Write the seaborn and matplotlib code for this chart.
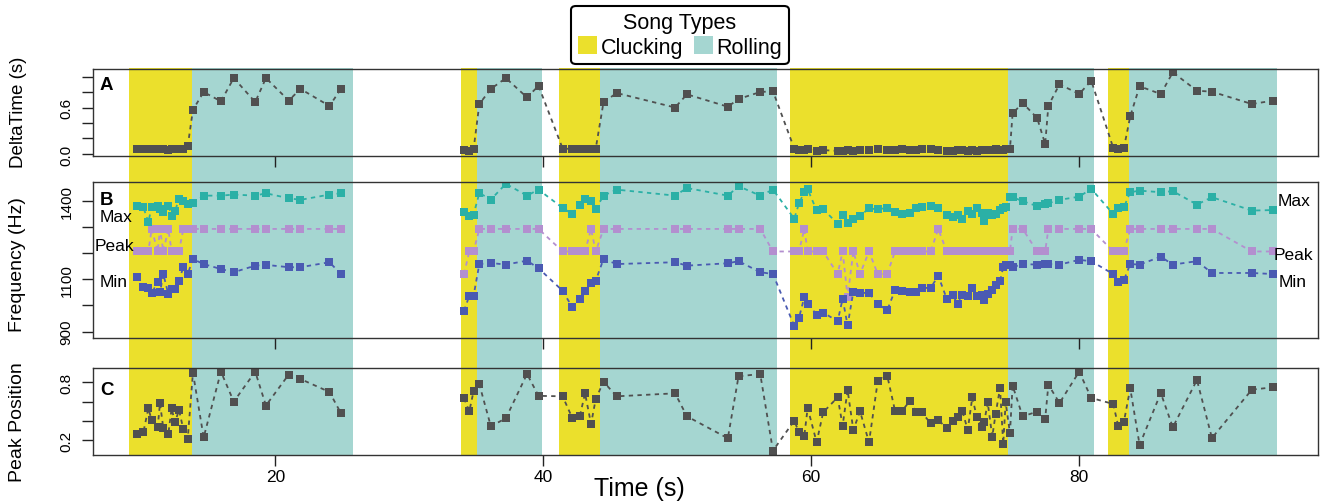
import numpy as np
import pandas as pd
import matplotlib
matplotlib.use("Agg")
import matplotlib.pyplot as plt
from matplotlib.patches import Patch
import seaborn as sns

# ---------------- data ----------------
song_type = ["Clucking", "Rolling", "Clucking", "Rolling", "Clucking", "Rolling",
             "Clucking", "Rolling", "Clucking", "Rolling"]
song_start = [9.08, 13.78, 33.84, 35.03, 41.18, 44.21, 58.42, 74.69, 82.16, 83.73]
song_end = [13.78, 25.80, 35.03, 39.90, 44.21, 57.45, 74.69, 81.11, 83.73, 94.77]

time_s = [
    # clucking 1
    9.65, 10.15, 10.52, 10.77, 11.22, 11.39, 11.64, 12.01, 12.26, 12.51, 12.81, 13.13, 13.46,
    # rolling 1
    13.85, 14.65, 15.94, 16.90, 18.50, 19.30, 21.00, 21.88, 24.04, 24.90,
    # clucking 2
    34.09, 34.48, 34.80,
    # rolling 2
    35.23, 36.09, 37.21, 38.79, 39.65,
    # clucking 3
    41.45, 42.17, 42.74, 43.12, 43.57, 43.92,
    # rolling 3
    44.50, 45.48, 49.84, 50.73, 53.78, 54.58, 56.20, 57.15,
    # clucking 4
    58.74, 59.09, 59.49, 59.74, 60.41, 60.90, 61.98, 62.35, 62.72, 63.15, 63.65, 64.32,
    64.97, 65.68, 66.26, 66.80, 67.38, 67.80, 68.25, 68.92, 69.49, 70.12, 70.56, 70.94,
    71.28, 71.69, 72.03, 72.36, 72.73, 72.92, 73.18, 73.52, 73.77, 74.10, 74.34, 74.52, 74.84,
    # rolling 4
    75.04, 75.79, 76.87, 77.47, 77.71, 78.54, 80.01, 80.91,
    # clucking 5
    82.55, 82.93, 83.35,
    # rolling 5
    83.82, 84.52, 86.10, 87.00, 88.80, 89.92, 92.90, 94.47,
]

delta_time = [
    0.07, 0.06, 0.07, 0.06, 0.06, 0.07, 0.06, 0.05, 0.06, 0.06, 0.07, 0.07, 0.10,
    0.57, 0.80, 0.68, 0.98, 0.67, 0.98, 0.69, 0.84, 0.62, 0.84,
    0.055, 0.04, 0.06,
    0.645, 0.84, 0.98, 0.73, 0.88,
    0.07, 0.065, 0.06, 0.06, 0.065, 0.07,
    0.667, 0.787, 0.60, 0.77, 0.61, 0.71, 0.80, 0.81,
    0.07, 0.05, 0.05, 0.06, 0.04, 0.05, 0.04, 0.04, 0.05, 0.04, 0.05, 0.05,
    0.06, 0.05, 0.05, 0.06, 0.05, 0.05, 0.06, 0.06, 0.05, 0.04, 0.04, 0.05,
    0.05, 0.04, 0.05, 0.04, 0.05, 0.05, 0.05, 0.05, 0.06, 0.05, 0.05, 0.06, 0.06,
    0.525, 0.658, 0.465, 0.129, 0.623, 0.90, 0.774, 0.946,
    0.08, 0.06, 0.08,
    0.486, 0.874, 0.774, 1.054, 0.817, 0.804, 0.645, 0.688,
]

freq_max = [
    1379, 1375, 1318, 1375, 1379, 1369, 1358, 1381, 1343, 1360, 1406, 1398, 1387,
    1390, 1419, 1419, 1423, 1419, 1428, 1409, 1403, 1423, 1428,
    1356, 1343, 1347,
    1429, 1404, 1464, 1419, 1442,
    1372, 1349, 1385, 1406, 1400, 1368,
    1419, 1442, 1419, 1448, 1419, 1455, 1419, 1442,
    1331, 1389, 1433, 1443, 1363, 1367, 1312, 1347, 1316, 1331, 1342, 1370,
    1367, 1372, 1357, 1350, 1354, 1372, 1376, 1380, 1372, 1344, 1338, 1344,
    1331, 1359, 1350, 1370, 1354, 1321, 1354, 1344, 1350, 1363, 1370, 1376, 1414,
    1413, 1398, 1379, 1387, 1390, 1403, 1415, 1445,
    1349, 1372, 1375,
    1432, 1438, 1432, 1436, 1385, 1413, 1362, 1364,
]

freq_min = [
    1110, 1069, 1067, 1047, 1089, 1050, 1120, 1044, 1063, 1063, 1095, 1146, 1120,
    1177, 1158, 1139, 1127, 1152, 1155, 1146, 1146, 1165, 1120,
    980, 1037, 1037,
    1158, 1162, 1156, 1171, 1142,
    1056, 993, 1025, 1056, 1085, 1095,
    1177, 1158, 1165, 1152, 1161, 1169, 1127, 1120,
    922, 952, 1032, 1007, 965, 973, 940, 1026, 924, 1052, 1048, 1048,
    1006, 982, 1058, 1054, 1052, 1052, 1067, 1067, 1113, 1026, 1039, 1007,
    1039, 1036, 1067, 1036, 1039, 1020, 1045, 1058, 1077, 1092, 1147, 1153, 1156,
    1146, 1158, 1156, 1158, 1158, 1156, 1174, 1169,
    1120, 1089, 1097,
    1158, 1156, 1186, 1156, 1169, 1124, 1124, 1120,
]

freq_peak = [
    1206, 1206, 1206, 1292, 1206, 1292, 1206, 1292, 1206, 1206, 1206, 1292, 1292,
    1292, 1292, 1292, 1292, 1292, 1292, 1292, 1292, 1292, 1292,
    1120, 1206, 1206,
    1292, 1292, 1292, 1292, 1292,
    1206, 1206, 1206, 1206, 1292, 1206,
    1292, 1292, 1292, 1292, 1292, 1292, 1292, 1206,
    1206, 1206, 1292, 1206, 1206, 1206, 1120, 1206, 1033, 1206, 1120, 1206,
    1120, 1120, 1206, 1206, 1206, 1206, 1206, 1206, 1292, 1206, 1206, 1206,
    1206, 1206, 1206, 1206, 1206, 1206, 1206, 1206, 1206, 1206, 1206, 1206, 1206,
    1292, 1292, 1206, 1206, 1292, 1292, 1292, 1292,
    1206, 1206, 1206,
    1292, 1292, 1292, 1292, 1292, 1292, 1206, 1206,
]

peak_position = [
    0.265, 0.283, 0.53, 0.41, 0.335, 0.586, 0.324, 0.265, 0.53, 0.386, 0.514, 0.317, 0.214,
    0.90, 0.23, 0.91, 0.60, 0.91, 0.56, 0.88, 0.834, 0.70, 0.48,
    0.635, 0.50, 0.707,
    0.78, 0.345, 0.428, 0.886, 0.66,
    0.655, 0.43, 0.455, 0.686, 0.37, 0.627,
    0.806, 0.655, 0.686, 0.448, 0.221, 0.862, 0.886, 0.093,
    0.403, 0.283, 0.248, 0.534, 0.18, 0.49, 0.645, 0.351, 0.72, 0.307, 0.50, 0.18,
    0.81, 0.869, 0.506, 0.506, 0.61, 0.49, 0.49, 0.376, 0.41, 0.327, 0.403, 0.444,
    0.506, 0.307, 0.645, 0.444, 0.341, 0.386, 0.593, 0.237, 0.472, 0.741, 0.162, 0.593, 0.273,
    0.765, 0.448, 0.496, 0.42, 0.775, 0.586, 0.91, 0.638,
    0.576, 0.345, 0.393,
    0.738, 0.152, 0.689, 0.335, 0.824, 0.224, 0.724, 0.748,
]

# ---------------- build table ----------------
df = pd.DataFrame({
    "time": time_s, "delta": delta_time, "fmax": freq_max, "fmin": freq_min,
    "fpeak": freq_peak, "ppos": peak_position,
})
df["segment"] = (df["time"].diff() > 5).cumsum()

# ---------------- style ----------------
sns.set_style("white")
plt.rcParams["font.family"] = ["Liberation Sans", "DejaVu Sans"]
plt.rcParams["text.color"] = "black"
plt.rcParams["axes.labelcolor"] = "black"
plt.rcParams["xtick.color"] = "black"
plt.rcParams["ytick.color"] = "black"

YEL = "#EBE02C"
TEAL = "#A5D6D1"
GRAY = "#505050"
C_MAX = "#2BB0A6"
C_MIN = "#4A5AB2"
C_PEAK = "#B38FCF"
band_colors = {"Clucking": YEL, "Rolling": TEAL}

W, H = 1321, 502
fig = plt.figure(figsize=(W / 100, H / 100), dpi=100)


def fx(px):
    return px / W


def fy(py):
    return 1 - py / H


L, R = 93, 1317.5
XLIM = (6.39, 97.8)

bg = fig.add_axes([fx(L), fy(457), fx(R) - fx(L), fy(69) - fy(457)])
bg.set_xlim(XLIM)
bg.set_ylim(0, 1)
bg.axis("off")
for s, e, k in zip(song_start, song_end, song_type):
    bg.axvspan(s, e, color=band_colors[k], lw=0)

axA = fig.add_axes([fx(L), fy(156.7), fx(R) - fx(L), fy(70) - fy(156.7)])
axB = fig.add_axes([fx(L), fy(339), fx(R) - fx(L), fy(183) - fy(339)])
axC = fig.add_axes([fx(L), fy(456), fx(R) - fx(L), fy(369) - fy(456)])

line_kw = dict(units="segment", estimator=None, marker="s", markersize=5.9,
               markeredgewidth=0, linewidth=1.3, linestyle=(0, (2.4, 2.4)), legend=False)

sns.lineplot(data=df, x="time", y="delta", ax=axA, color=GRAY, **line_kw)
sns.lineplot(data=df, x="time", y="fpeak", ax=axB, color=C_PEAK, **line_kw)
sns.lineplot(data=df, x="time", y="fmin", ax=axB, color=C_MIN, **line_kw)
sns.lineplot(data=df, x="time", y="fmax", ax=axB, color=C_MAX, **line_kw)
sns.lineplot(data=df, x="time", y="ppos", ax=axC, color=GRAY, **line_kw)

for ax in (axA, axB, axC):
    ax.set_facecolor("none")
    ax.set_xlim(XLIM)
    ax.set_xticks([20, 40, 60, 80])
    ax.set_xlabel("")
    ax.set_ylabel("")
    ax.tick_params(axis="both", which="both", direction="out", length=8, width=1,
                   color="#222222", bottom=True, left=True)
    ax.tick_params(axis="y", pad=6, labelsize=11)
    ax.tick_params(axis="x", pad=2, labelsize=12.5)
    for sp in ax.spines.values():
        sp.set_linewidth(1.0)
        sp.set_color("#333333")

axA.tick_params(axis="x", labelbottom=False)
axB.tick_params(axis="x", labelbottom=False)
axC.set_xticklabels(["20", "40", "60", "80"])

axA.set_ylim(-0.022, 1.097)
axA.set_yticks([0, 0.2, 0.4, 0.6, 0.8, 1.0])
axA.set_yticklabels(["0.0", "", "", "0.6", "", ""], rotation=90, va="center")

axB.set_ylim(876, 1471)
axB.set_yticks([900, 1000, 1100, 1200, 1300, 1400])
axB.set_yticklabels(["900", "", "1100", "", "", "1400"], rotation=90, va="center")

axC.set_ylim(0.048, 0.948)
axC.set_yticks([0.2, 0.4, 0.6, 0.8])
axC.set_yticklabels(["0.2", "", "", "0.8"], rotation=90, va="center")

# panel letters
axA.text(0.0057, 0.92, "A", transform=axA.transAxes, fontsize=13.5, fontweight="bold", va="top")
axB.text(0.0057, 0.942, "B", transform=axB.transAxes, fontsize=13.5, fontweight="bold", va="top")
axC.text(0.0057, 0.854, "C", transform=axC.transAxes, fontsize=13.5, fontweight="bold", va="top")

# series labels in B
lab_fs = 12.5
axB.text(6.9, 1338, "Max", fontsize=lab_fs, va="center", ha="left")
axB.text(6.5, 1227, "Peak", fontsize=lab_fs, va="center", ha="left")
axB.text(6.9, 1093, "Min", fontsize=lab_fs, va="center", ha="left")
axB.text(94.8, 1399, "Max", fontsize=lab_fs, va="center", ha="left")
axB.text(94.5, 1193, "Peak", fontsize=lab_fs, va="center", ha="left")
axB.text(94.9, 1093, "Min", fontsize=lab_fs, va="center", ha="left")

# axis titles
fig.text(fx(19), fy(112), "DeltaTime (s)", rotation=90, ha="center", va="center", fontsize=13.5)
fig.text(fx(18), fy(265), "Frequency (Hz)", rotation=90, ha="center", va="center", fontsize=14)
fig.text(fx(18), fy(422), "Peak Position", rotation=90, ha="center", va="center", fontsize=14)
fig.text(fx(639), fy(489), "Time (s)", ha="center", va="center", fontsize=18)

# legend
handles = [Patch(facecolor=YEL, edgecolor="none", label="Clucking"),
           Patch(facecolor=TEAL, edgecolor="none", label="Rolling")]
leg = fig.legend(handles=handles, title="Song Types", ncol=2, loc="center",
                 bbox_to_anchor=(fx(680), fy(36)), frameon=True, fancybox=True,
                 edgecolor="black", fontsize=15.5, title_fontsize=15.5,
                 handlelength=0.9, handleheight=0.9, handletextpad=0.15,
                 columnspacing=0.5, borderpad=0.3, labelspacing=0.15, framealpha=1)
leg.get_frame().set_linewidth(1.5)

fig.savefig("out.png", dpi=100)
